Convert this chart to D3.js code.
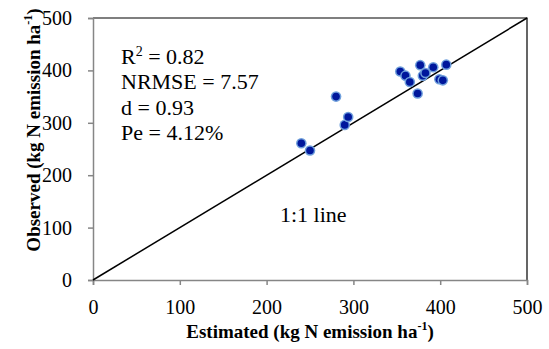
<!DOCTYPE html>
<html>
<head>
<meta charset="utf-8">
<script src="https://cdn.jsdelivr.net/npm/d3@7"></script>
<style>
  body { margin: 0; background: #fff; }
</style>
</head>
<body>
<div id="chart"></div>
<script>
// values
const estimated = [240, 250, 280, 290, 294, 354, 360, 365, 374, 377, 380, 383, 392, 399, 403, 407];
const observed  = [261, 247, 350, 296, 311, 398, 390, 378, 356, 410, 390, 395, 406, 383, 381, 411];
const xTicks = [0, 100, 200, 300, 400, 500];
const yTicks = [0, 100, 200, 300, 400, 500];
const statLines = [
  { base: "R", sup: "2", rest: " = 0.82" },
  { base: "NRMSE = 7.57" },
  { base: "d = 0.93" },
  { base: "Pe = 4.12%" }
];

const FONT = '"Liberation Serif", "Times New Roman", serif';
const width = 549, height = 349;
const margin = { top: 18, right: 22, bottom: 69, left: 93 };

const svg = d3.select("#chart").append("svg")
  .attr("width", width)
  .attr("height", height)
  .attr("font-family", FONT);

const x = d3.scaleLinear().domain([0, 500]).range([margin.left, width - margin.right]);
const y = d3.scaleLinear().domain([0, 500]).range([height - margin.bottom, margin.top]);

// frame: top and right in black
svg.append("path")
  .attr("d", `M${x(0)},${y(500)}H${x(500)}V${y(0)}`)
  .attr("fill", "none")
  .attr("stroke", "#000")
  .attr("stroke-width", 1.2);

// axes (gray)
const xAxis = svg.append("g")
  .attr("transform", `translate(0,${y(0)})`)
  .call(d3.axisBottom(x).tickValues(xTicks).tickSize(5).tickPadding(15));
const yAxis = svg.append("g")
  .attr("transform", `translate(${x(0)},0)`)
  .call(d3.axisLeft(y).tickValues(yTicks).tickSize(5).tickPadding(16));

[xAxis, yAxis].forEach(g => {
  g.attr("font-family", FONT).attr("font-size", 20);
  g.select(".domain").attr("stroke", "#868686").attr("stroke-width", 1.5);
  g.selectAll(".tick line").attr("stroke", "#868686").attr("stroke-width", 1.5);
  g.selectAll(".tick text").attr("fill", "#000");
});

// 1:1 line
svg.append("line")
  .attr("x1", x(0)).attr("y1", y(0))
  .attr("x2", x(500)).attr("y2", y(500))
  .attr("stroke", "#000")
  .attr("stroke-width", 1.5);

// points
const pts = svg.append("g");
estimated.forEach((e, i) => {
  pts.append("circle")
    .attr("cx", x(e)).attr("cy", y(observed[i]))
    .attr("r", 5.3)
    .attr("fill", "#6f9fdc");
  pts.append("circle")
    .attr("cx", x(e)).attr("cy", y(observed[i]))
    .attr("r", 3.8)
    .attr("fill", "#00179c");
});

// stats text
const stats = svg.append("text")
  .attr("x", 121)
  .attr("y", 64)
  .attr("font-family", FONT)
  .attr("font-size", 22)
  .attr("fill", "#000");
statLines.forEach((l, i) => {
  stats.append("tspan")
    .attr("x", 121)
    .attr("dy", i === 0 ? 0 : 25.4)
    .text(l.base);
  if (l.sup) {
    stats.append("tspan")
      .attr("dy", -8)
      .attr("font-size", 14)
      .text(l.sup);
    stats.append("tspan")
      .attr("dy", 8)
      .text(l.rest);
  }
});

svg.append("text")
  .attr("x", 280)
  .attr("y", 222)
  .attr("font-family", FONT)
  .attr("font-size", 22)
  .text("1:1 line");

// axis titles
function title(sel, label) {
  sel.attr("text-anchor", "middle")
    .attr("font-family", FONT)
    .attr("font-size", 19)
    .attr("font-weight", "bold");
  sel.append("tspan").text(label + " (kg N emission ha");
  sel.append("tspan").attr("dy", -8).attr("font-size", 12).text("-1");
  sel.append("tspan").attr("dy", 8).text(")");
}

title(svg.append("text")
  .attr("x", (x(0) + x(500)) / 2)
  .attr("y", 338), "Estimated");

title(svg.append("text")
  .attr("transform", "translate(40,130) rotate(-90)"), "Observed");
</script>
</body>
</html>
